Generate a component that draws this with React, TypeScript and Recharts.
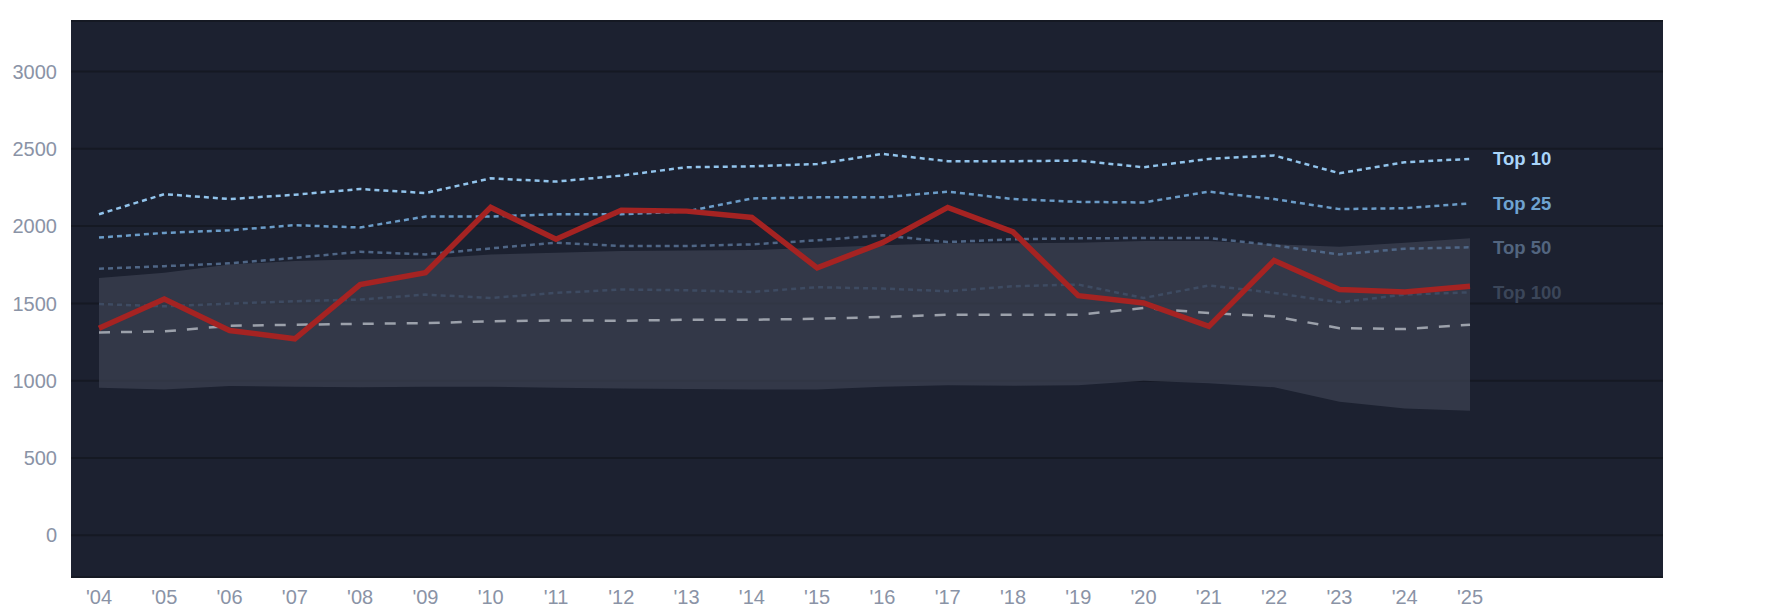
import React from 'react';
import { ComposedChart, Line, Area, XAxis, YAxis, CartesianGrid } from 'recharts';

const years = ["'04", "'05", "'06", "'07", "'08", "'09", "'10", "'11", "'12", "'13", "'14", "'15", "'16", "'17", "'18", "'19", "'20", "'21", "'22", "'23", "'24", "'25"];
const top10 = [2077, 2207, 2175, 2203, 2240, 2214, 2309, 2288, 2327, 2381, 2387, 2402, 2467, 2420, 2420, 2424, 2381, 2435, 2457, 2342, 2413, 2435];
const top25 = [1926, 1956, 1973, 2006, 1991, 2062, 2062, 2077, 2077, 2095, 2179, 2186, 2186, 2223, 2175, 2157, 2153, 2223, 2175, 2110, 2116, 2147];
const top50 = [1724, 1741, 1759, 1795, 1834, 1817, 1856, 1893, 1871, 1871, 1882, 1908, 1941, 1897, 1915, 1921, 1923, 1923, 1876, 1817, 1854, 1863];
const top100 = [1496, 1481, 1499, 1514, 1525, 1557, 1535, 1568, 1590, 1585, 1574, 1605, 1596, 1579, 1611, 1622, 1535, 1616, 1568, 1507, 1557, 1572];
const median = [1312, 1319, 1355, 1362, 1368, 1373, 1384, 1390, 1388, 1394, 1394, 1401, 1412, 1427, 1427, 1427, 1470, 1438, 1416, 1340, 1334, 1362];
const bandHigh = [1665, 1698, 1752, 1774, 1785, 1789, 1817, 1828, 1839, 1843, 1845, 1860, 1876, 1889, 1889, 1893, 1904, 1904, 1882, 1867, 1893, 1921];
const bandLow = [954, 943, 965, 961, 957, 961, 961, 954, 950, 946, 943, 943, 961, 970, 967, 970, 1000, 983, 957, 863, 820, 805];
const team = [1340, 1529, 1325, 1271, 1622, 1698, 2121, 1915, 2103, 2097, 2056, 1730, 1893, 2121, 1962, 1550, 1503, 1351, 1778, 1590, 1574, 1611];
const yTicks = [0, 500, 1000, 1500, 2000, 2500, 3000];

const data = years.map((y, i) => ({
  year: y,
  top10: top10[i],
  top25: top25[i],
  top50: top50[i],
  top100: top100[i],
  median: median[i],
  band: [bandLow[i], bandHigh[i]],
  team: team[i],
}));

const FONT = "'Liberation Sans', Arial, Helvetica, sans-serif";
const last = years.length - 1;

const endLabel = (text: string, color: string) => (props: any) => {
  const { x, y, index } = props;
  if (index !== last) return <g />;
  return (
    <text x={x + 23} y={y} dy="0.35em" fill={color} fontSize={18.5} fontWeight="bold" fontFamily={FONT} textAnchor="start">
      {text}
    </text>
  );
};

export default function App() {
  return (
    <div style={{ position: 'absolute', left: 0, top: 0, width: 1785, height: 614, background: '#ffffff' }}>
      <ComposedChart width={1785} height={614} data={data} margin={{ top: 21, right: 122, bottom: 0, left: 0 }}>
        <CartesianGrid vertical={false} fill="#1c2130" stroke="#151923" strokeWidth={2} />
        <XAxis
          dataKey="year"
          height={37}
          padding={{ left: 28, right: 193 }}
          axisLine={false}
          tickLine={false}
          tickSize={6}
          tickMargin={7}
          interval={0}
          tick={{ fill: '#8a93a6', fontSize: 20, fontFamily: FONT }}
        />
        <YAxis
          width={71}
          domain={[-270, 3327]}
          ticks={yTicks}
          axisLine={false}
          tickLine={false}
          tickSize={6}
          tickMargin={8}
          allowDataOverflow
          tick={{ fill: '#8a93a6', fontSize: 20, fontFamily: FONT }}
        />
        <Area dataKey="band" type="linear" fill="#3b4050" fillOpacity={0.75} stroke="none" isAnimationActive={false} />
        <Line dataKey="top100" type="linear" stroke="#3e4b62" strokeWidth={2.5} strokeDasharray="5 4" dot={false} isAnimationActive={false} label={endLabel('Top 100', '#3b4659')} />
        <Line dataKey="top50" type="linear" stroke="#4f6686" strokeWidth={2.5} strokeDasharray="5 4" dot={false} isAnimationActive={false} label={endLabel('Top 50', '#52657f')} />
        <Line dataKey="top25" type="linear" stroke="#6b9cc8" strokeWidth={2.5} strokeDasharray="5 4" dot={false} isAnimationActive={false} label={endLabel('Top 25', '#6fa3d0')} />
        <Line dataKey="top10" type="linear" stroke="#92c4ec" strokeWidth={2.5} strokeDasharray="5 4" dot={false} isAnimationActive={false} label={endLabel('Top 10', '#a9d5fa')} />
        <Line dataKey="median" type="linear" stroke="#9ca1ab" strokeWidth={2.5} strokeDasharray="11 11" dot={false} isAnimationActive={false} />
        <Line dataKey="team" type="linear" stroke="#a52322" strokeWidth={5.5} dot={false} isAnimationActive={false} />
      </ComposedChart>
    </div>
  );
}
